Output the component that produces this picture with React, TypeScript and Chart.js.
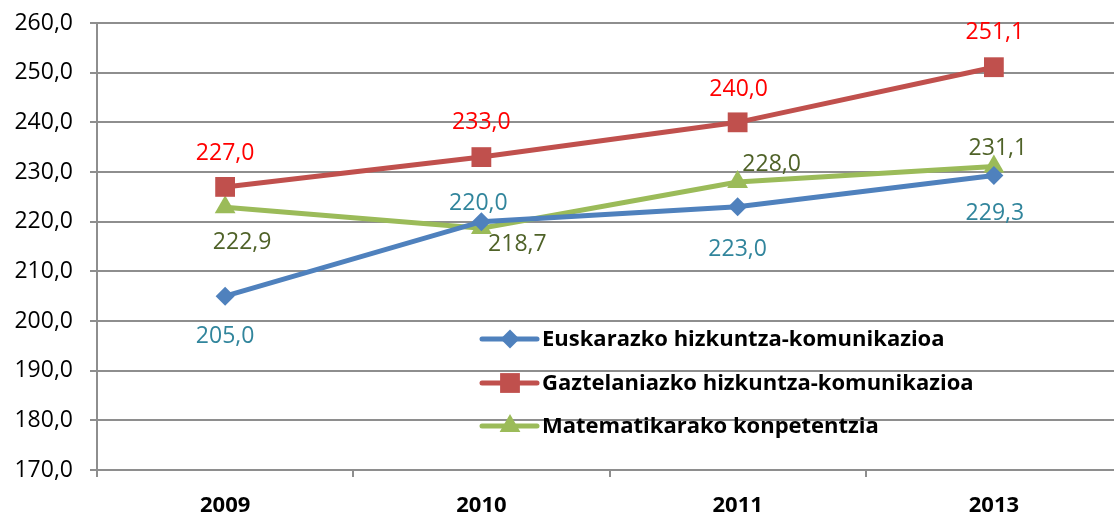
import React, { useEffect, useRef } from 'react';
import { Chart, registerables } from 'chart.js';

Chart.register(...registerables);

// ---- data ----
const years = ['2009', '2010', '2011', '2013'];
const euskara = [205.0, 220.0, 223.0, 229.3];
const gaztelania = [227.0, 233.0, 240.0, 251.1];
const matematika = [222.9, 218.7, 228.0, 231.1];
const seriesNames = [
  'Euskarazko hizkuntza-komunikazioa',
  'Gaztelaniazko hizkuntza-komunikazioa',
  'Matematikarako konpetentzia',
];
const yMin = 170;
const yMax = 260;
const yStep = 10;

// ---- styles ----
const lineColors = ['#4F81BD', '#C0504D', '#9BBB59'];
const labelColors = ['#31859C', '#FF0000', '#4F6228'];
const pointStyles = ['rectRot', 'rect', 'triangle'];
const pointRadii = [9.5, 14, 12];
// data-label placement relative to point (px): [dx, dy of glyph centre]
const labelOffsets = [
  [[0, 39], [-3, -20], [0, 41], [1, 37]],
  [[0, -35], [0, -36], [1, -34], [1, -36]],
  [[17, 34], [36, 15], [34, -19], [4, -20]],
];
const FONT = "'Open Sans', 'DejaVu Sans', sans-serif";
const GRID = '#8e8e8e';
const CANVAS_W = 1136;

const fmt = (v: number) => v.toFixed(1).replace('.', ',');

function drawMarker(ctx: CanvasRenderingContext2D, style: string, x: number, y: number, r: number, color: string) {
  ctx.save();
  ctx.fillStyle = color;
  ctx.beginPath();
  if (style === 'rect') {
    const s = Math.SQRT1_2 * r;
    ctx.rect(x - s, y - s, 2 * s, 2 * s);
  } else if (style === 'rectRot') {
    ctx.moveTo(x, y - r);
    ctx.lineTo(x + r, y);
    ctx.lineTo(x, y + r);
    ctx.lineTo(x - r, y);
    ctx.closePath();
  } else {
    ctx.moveTo(x, y - r);
    ctx.lineTo(x + r * Math.sin(Math.PI / 3), y + r * 0.5);
    ctx.lineTo(x - r * Math.sin(Math.PI / 3), y + r * 0.5);
    ctx.closePath();
  }
  ctx.fill();
  ctx.restore();
}

const dataLabelPlugin = {
  id: 'dataLabels',
  afterDatasetsDraw(chart: any) {
    const ctx = chart.ctx as CanvasRenderingContext2D;
    ctx.save();
    ctx.font = `23px ${FONT}`;
    ctx.textAlign = 'center';
    ctx.textBaseline = 'alphabetic';
    chart.data.datasets.forEach((ds: any, i: number) => {
      const meta = chart.getDatasetMeta(i);
      meta.data.forEach((el: any, j: number) => {
        const [dx, dy] = labelOffsets[i][j];
        ctx.fillStyle = labelColors[i];
        ctx.fillText(fmt(ds.data[j]), el.x + dx, el.y + dy + 8);
      });
    });
    ctx.restore();
  },
};

const legendPlugin = {
  id: 'innerLegend',
  afterDraw(chart: any) {
    const ctx = chart.ctx as CanvasRenderingContext2D;
    const x0 = 482;
    const rows = [339, 383, 426];
    ctx.save();
    ctx.font = `bold 22px ${FONT}`;
    ctx.textAlign = 'left';
    ctx.textBaseline = 'middle';
    seriesNames.forEach((name, i) => {
      const y = rows[i];
      ctx.strokeStyle = lineColors[i];
      ctx.lineWidth = 5;
      ctx.lineCap = 'round';
      ctx.beginPath();
      ctx.moveTo(x0, y);
      ctx.lineTo(x0 + 55, y);
      ctx.stroke();
      drawMarker(ctx, pointStyles[i], x0 + 28, y, pointRadii[i], lineColors[i]);
      ctx.fillStyle = '#000';
      ctx.fillText(name, x0 + 60, y + 1);
    });
    ctx.restore();
  },
};

export default function App() {
  const ref = useRef<HTMLCanvasElement | null>(null);

  useEffect(() => {
    if (!ref.current) return;
    Chart.defaults.font.family = FONT;
    const series = [euskara, gaztelania, matematika];
    const chart = new Chart(ref.current, {
      type: 'line',
      data: {
        labels: years,
        datasets: series.map((d, i) => ({
          label: seriesNames[i],
          data: d,
          borderColor: lineColors[i],
          backgroundColor: lineColors[i],
          borderWidth: 5,
          tension: 0,
          pointStyle: pointStyles[i] as any,
          pointRadius: pointRadii[i],
          pointBorderWidth: 0,
          pointBackgroundColor: lineColors[i],
          pointBorderColor: lineColors[i],
          clip: false as any,
        })),
      },
      options: {
        responsive: false,
        animation: false,
        layout: { padding: { top: 23, right: 0, left: 0, bottom: 0 } },
        plugins: { legend: { display: false }, tooltip: { enabled: false } },
        scales: {
          x: {
            type: 'category',
            offset: true,
            grid: { offset: true, drawOnChartArea: false, drawTicks: true, tickLength: 7, color: GRID, lineWidth: 2 },
            border: { color: GRID, width: 2 },
            ticks: { color: '#000', font: { size: 22, weight: 'bold', family: FONT }, padding: 16 },
            afterFit: (s: any) => {
              s.height = 44;
              s.paddingLeft = 0;
              s.paddingRight = 0;
            },
          },
          y: {
            min: yMin,
            max: yMax,
            grid: { color: GRID, lineWidth: 2, tickLength: 7 },
            border: { color: GRID, width: 2 },
            ticks: {
              stepSize: yStep,
              color: '#000',
              font: { size: 23, family: FONT },
              padding: 17,
              callback: (v: any) => fmt(Number(v)),
            },
            afterFit: (s: any) => {
              s.width = 97;
              s.paddingTop = 0;
              s.paddingBottom = 0;
            },
          },
        },
      } as any,
      plugins: [dataLabelPlugin, legendPlugin],
    });
    return () => chart.destroy();
  }, []);

  return (
    <div style={{ position: 'fixed', left: 0, top: 0, width: 1114, height: 514, overflow: 'hidden', background: '#fff' }}>
      <canvas ref={ref} width={CANVAS_W} height={514} style={{ display: 'block', width: CANVAS_W, height: 514 }} />
    </div>
  );
}
